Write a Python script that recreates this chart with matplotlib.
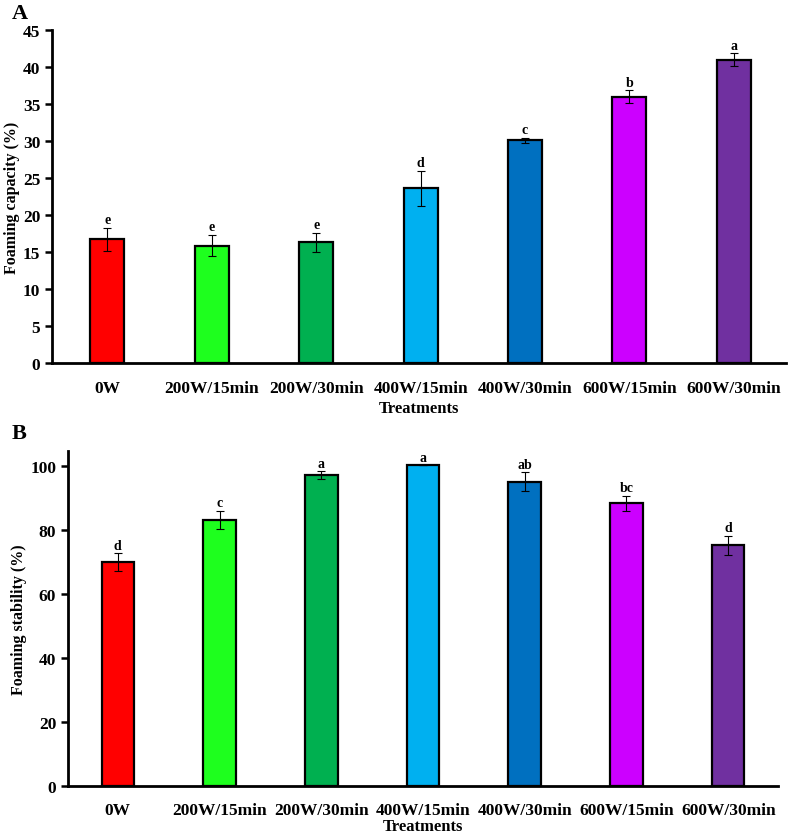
import matplotlib
matplotlib.use("Agg")
import matplotlib.pyplot as plt

plt.rcParams['font.family'] = ['Liberation Serif', 'DejaVu Serif']
plt.rcParams['font.weight'] = 'bold'

treatments = ['0W', '200W/15min', '200W/30min', '400W/15min', '400W/30min', '600W/15min', '600W/30min']
colores = ['#FF0000', '#1EFF1E', '#00B050', '#00B0F0', '#0070C0', '#CC00FF', '#7030A0']

capacidade = [16.7, 15.85, 16.3, 23.6, 30.1, 36.0, 41.0]
capacidade_err = [1.5, 1.45, 1.25, 2.35, 0.3, 0.85, 0.85]
capacidade_letras = ['e', 'e', 'e', 'd', 'c', 'b', 'a']

estabilidade = [69.8, 83.0, 97.0, 100.1, 95.0, 88.3, 75.1]
estabilidade_err = [2.8, 2.9, 1.25, 0.0, 2.9, 2.4, 3.1]
estabilidade_letras = ['d', 'c', 'a', 'a', 'ab', 'bc', 'd']


def painel(ax, valores, erros, letras, ylabel, ylim, yticks, largura, xlim, gap, xpad):
    x = list(range(len(treatments)))
    ax.bar(x, valores, width=largura, color=colores, edgecolor='black', linewidth=1.6, zorder=2)
    ax.errorbar(x, valores, yerr=erros, fmt='none', ecolor='black', elinewidth=0.8,
                capsize=3, capthick=0.8, zorder=3)
    for xi, v, e, l in zip(x, valores, erros, letras):
        ax.text(xi, v + e + gap, l, ha='center', va='bottom', fontsize=10, fontweight='bold')
    ax.set_xlim(*xlim)
    ax.set_ylim(*ylim)
    ax.set_yticks(yticks)
    ax.set_xticks(x)
    ax.set_xticklabels(treatments, fontsize=12.5, fontweight='bold')
    ax.tick_params(axis='x', length=0, pad=12)
    ax.tick_params(axis='y', labelsize=12.5, width=1.8, length=5, direction='out')
    for t in ax.get_yticklabels():
        t.set_fontweight('bold')
    ax.spines['top'].set_visible(False)
    ax.spines['right'].set_visible(False)
    ax.spines['left'].set_linewidth(2)
    ax.spines['bottom'].set_linewidth(2)
    ax.set_ylabel(ylabel, fontsize=11.5, fontweight='bold', labelpad=2)
    ax.set_xlabel('Treatments', fontsize=12, fontweight='bold', labelpad=xpad)


fig = plt.figure(figsize=(7.89, 8.37), dpi=100)
ax1 = fig.add_axes([0.0659, 0.5651, 0.9303, 0.3978])
ax2 = fig.add_axes([0.0862, 0.0601, 0.8999, 0.4002])

painel(ax1, capacidade, capacidade_err, capacidade_letras, 'Foaming capacity (%)',
       (0, 45), range(0, 46, 5), 0.325, (-0.53, 6.5), 0.25, 3)
painel(ax2, estabilidade, estabilidade_err, estabilidade_letras, 'Foaming stability (%)',
       (0, 104.7), range(0, 101, 20), 0.32, (-0.49, 6.49), 0.5, 0)

fig.text(12 / 789, 1 - 14 / 837, 'A', fontsize=16, fontweight='bold', ha='left', va='center')
fig.text(12 / 789, 1 - 434 / 837, 'B', fontsize=16, fontweight='bold', ha='left', va='center')

fig.savefig('out.png', dpi=100)
